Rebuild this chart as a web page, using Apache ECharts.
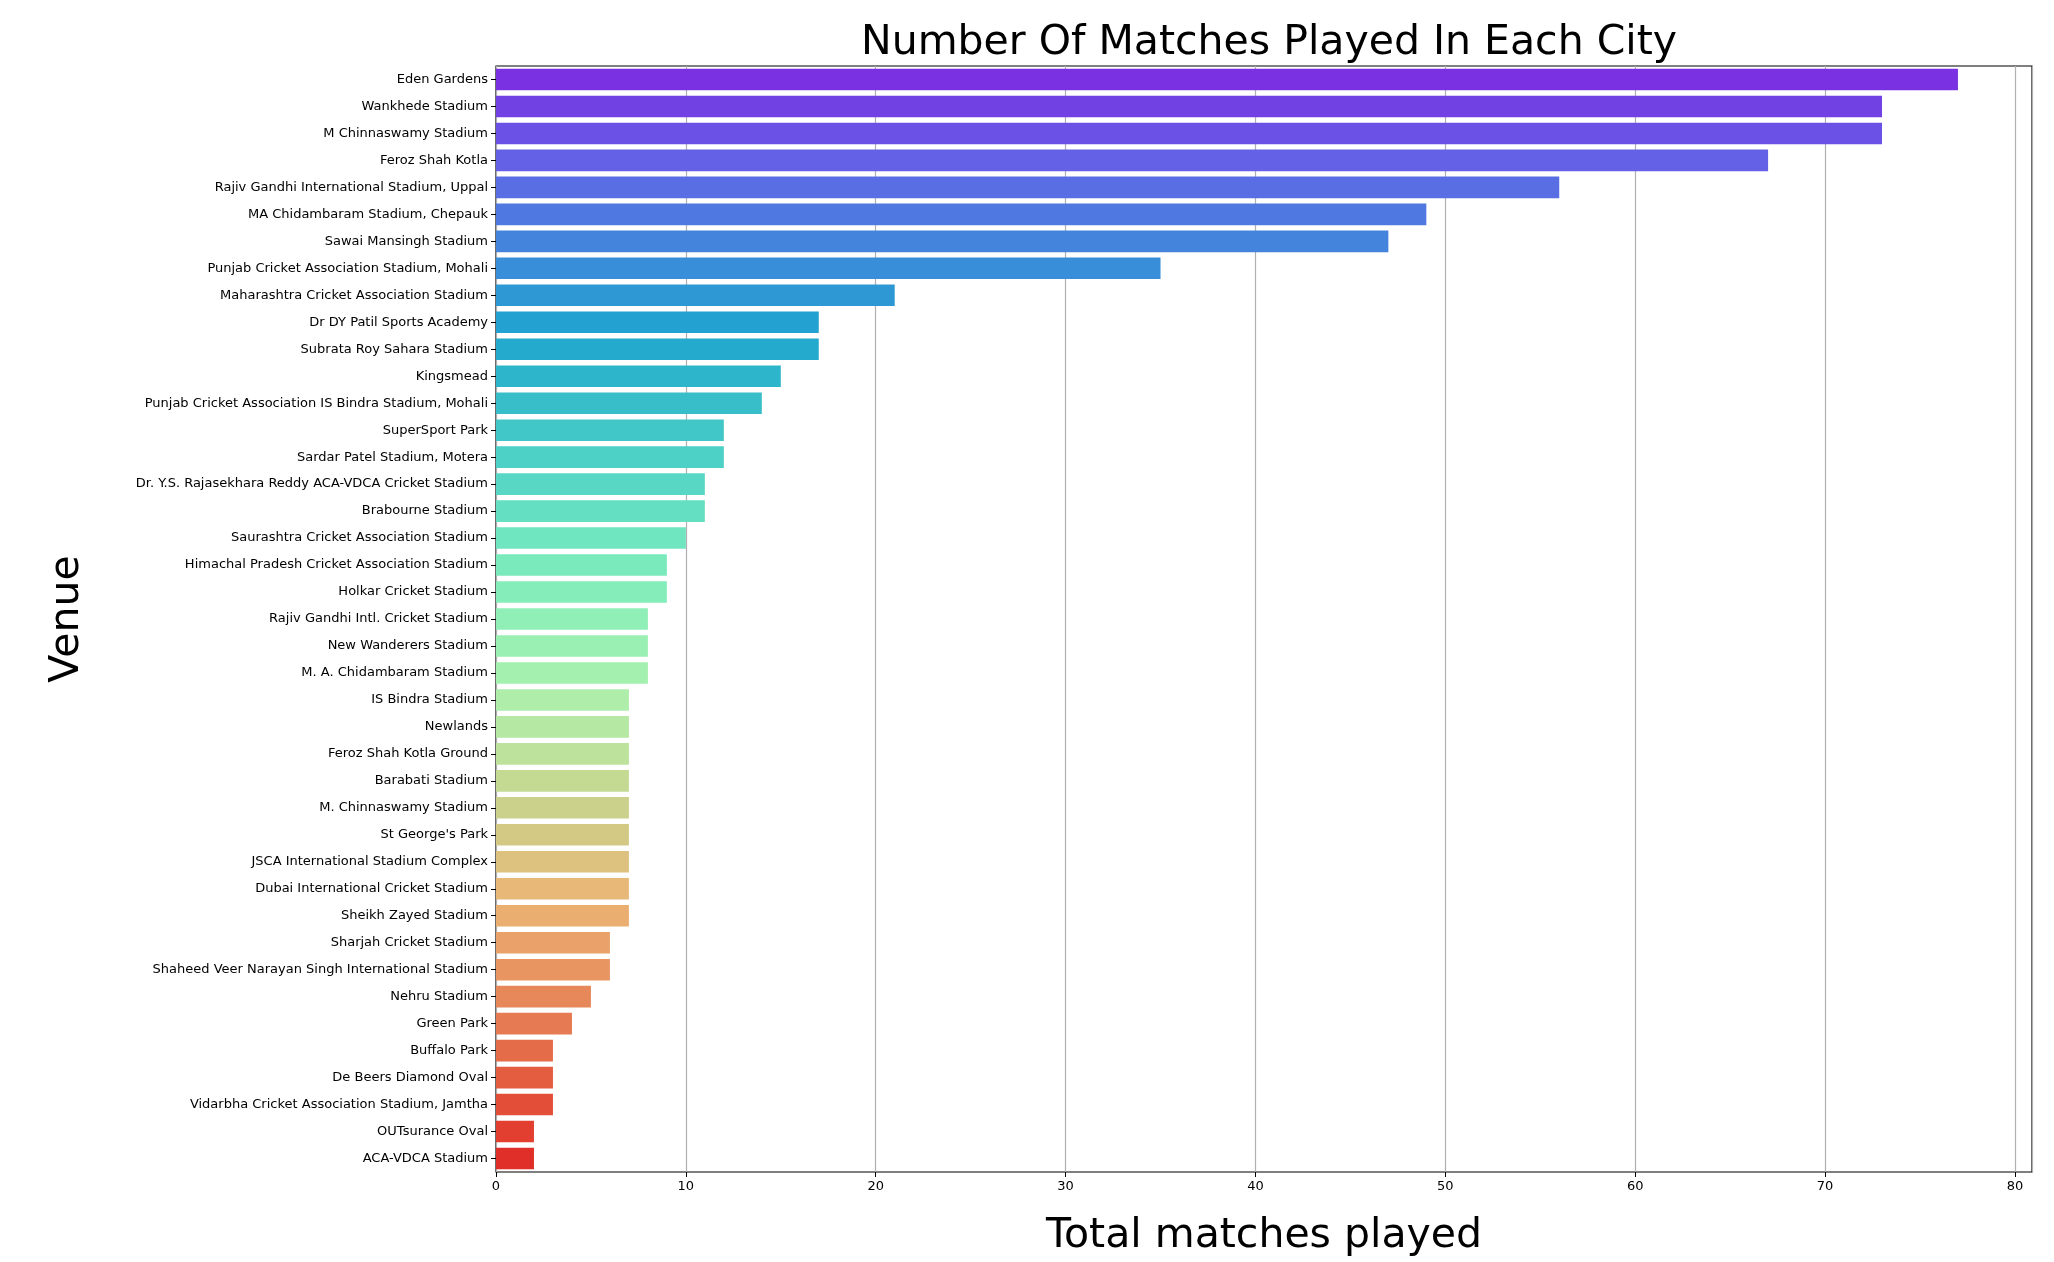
<!DOCTYPE html>
<html><head><meta charset="utf-8">
<script src="https://cdn.jsdelivr.net/npm/echarts@6/dist/echarts.min.js"></script>
<style>html,body{margin:0;background:#fff}#c{width:2054px;height:1262px}</style>
</head><body><div id="c"></div>
<script>
const venues = ['Eden Gardens','Wankhede Stadium','M Chinnaswamy Stadium','Feroz Shah Kotla',
  'Rajiv Gandhi International Stadium, Uppal','MA Chidambaram Stadium, Chepauk','Sawai Mansingh Stadium',
  'Punjab Cricket Association Stadium, Mohali','Maharashtra Cricket Association Stadium','Dr DY Patil Sports Academy',
  'Subrata Roy Sahara Stadium','Kingsmead','Punjab Cricket Association IS Bindra Stadium, Mohali','SuperSport Park',
  'Sardar Patel Stadium, Motera','Dr. Y.S. Rajasekhara Reddy ACA-VDCA Cricket Stadium','Brabourne Stadium',
  'Saurashtra Cricket Association Stadium','Himachal Pradesh Cricket Association Stadium','Holkar Cricket Stadium',
  'Rajiv Gandhi Intl. Cricket Stadium','New Wanderers Stadium','M. A. Chidambaram Stadium','IS Bindra Stadium',
  'Newlands','Feroz Shah Kotla Ground','Barabati Stadium','M. Chinnaswamy Stadium',"St George's Park",
  'JSCA International Stadium Complex','Dubai International Cricket Stadium','Sheikh Zayed Stadium',
  'Sharjah Cricket Stadium','Shaheed Veer Narayan Singh International Stadium','Nehru Stadium','Green Park',
  'Buffalo Park','De Beers Diamond Oval','Vidarbha Cricket Association Stadium, Jamtha','OUTsurance Oval','ACA-VDCA Stadium'];
const matches = [77,73,73,67,56,49,47,35,21,17,17,15,14,12,12,11,11,10,9,9,8,8,8,7,7,7,7,7,7,7,7,7,6,6,5,4,3,3,3,2,2];
const xTicks = { min: 0, max: 80.9, interval: 10 };

// seaborn-style "rainbow" palette, desaturated to 0.75
function hls(r,g,b){const mx=Math.max(r,g,b),mn=Math.min(r,g,b),l=(mx+mn)/2;let h=0,s=0;
  if(mx!==mn){const d=mx-mn;s=l>0.5?d/(2-mx-mn):d/(mx+mn);
    h=mx===r?((g-b)/d+(g<b?6:0)):mx===g?((b-r)/d+2):((r-g)/d+4);h/=6;}return [h,l,s];}
function rgb(h,l,s){if(s===0)return [l,l,l];const q=l<0.5?l*(1+s):l+s-l*s,p=2*l-q;
  const f=t=>{t=(t+1)%1;return t<1/6?p+(q-p)*6*t:t<1/2?q:t<2/3?p+(q-p)*(2/3-t)*6:p;};
  return [f(h+1/3),f(h),f(h-1/3)];}
const n = venues.length;
const colors = venues.map((_,i)=>{const x=(i+1)/(n+1);
  const r=Math.min(1,Math.abs(2*x-0.5)),g=Math.sin(Math.PI*x),b=Math.cos(Math.PI*x/2);
  const [h,l,s]=hls(r,g,b);const c=rgb(h,l,s*0.75).map(v=>Math.round(v*255));
  return `rgb(${c[0]},${c[1]},${c[2]})`;});

const chart = echarts.init(document.getElementById('c'), null, { renderer: 'canvas' });
chart.setOption({
  backgroundColor: '#fff',
  animation: false,
  title: { text: 'Number Of Matches Played In Each City', left: 1264, top: 18, textAlign: 'center',
    textStyle: { fontFamily: 'DejaVu Sans', fontSize: 41, fontWeight: 'normal', color: '#000' } },
  grid: { left: 496, right: 22, top: 66, bottom: 71, show: true, borderColor: '#000', borderWidth: 1.2 },
  xAxis: {
    type: 'value', min: xTicks.min, max: xTicks.max, interval: xTicks.interval,
    name: 'Total matches played', nameLocation: 'middle', nameGap: 44,
    nameTextStyle: { fontFamily: 'DejaVu Sans', fontSize: 41, color: '#000' },
    axisLine: { show: false }, axisTick: { show: true, length: 5, lineStyle: { color: '#000' } },
    axisLabel: { showMaxLabel: false, fontFamily: 'DejaVu Sans', fontSize: 13, color: '#000', margin: 8 },
    splitLine: { show: true, lineStyle: { color: '#b0b0b0', width: 1.2 } }
  },
  yAxis: {
    type: 'category', data: venues, inverse: true,
    name: 'Venue', nameLocation: 'middle', nameGap: 408,
    nameTextStyle: { fontFamily: 'DejaVu Sans', fontSize: 41, color: '#000' },
    axisLine: { show: false }, axisTick: { show: true, alignWithLabel: true, length: 5, lineStyle: { color: '#000' } },
    axisLabel: { fontFamily: 'DejaVu Sans', fontSize: 13, color: '#000', margin: 8, interval: 0 },
    splitLine: { show: false }
  },
  series: [{
    type: 'bar', barCategoryGap: '20%',
    data: matches.map((v,i)=>({ value: v, itemStyle: { color: colors[i] } }))
  }]
});
</script></body></html>
